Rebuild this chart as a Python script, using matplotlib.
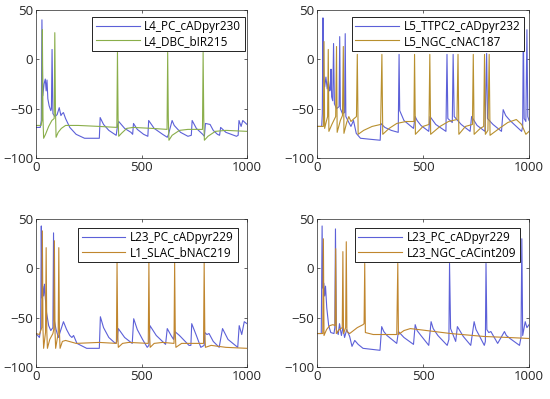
import numpy as np
import matplotlib
matplotlib.use("Agg")
import matplotlib.pyplot as plt

plt.rcParams['font.family'] = ['Open Sans', 'DejaVu Sans']

# (time ms, membrane potential mV) vertices
pc230 = [(0,-69),(20,-69),(25,-62),(28,40),(32,-37),(38,-25),(44,-20),(48,-32),(52,-21),(56,-40),
         (62,-47),(70,-52),(73,-50),(76,10),(80,-55),(90,-58),(100,-56),(110,-49),(118,-57),(124,-55),
         (130,-54),(140,-60),(160,-69),(190,-76),(230,-80),(300,-80),(304,-59),(320,-66),(345,-72),
         (380,-77),(387,-66),(392,-63),(420,-70),(450,-74),(458,-76),(462,-65),(480,-71),(510,-76),
         (530,-78),(534,-62),(560,-70),(600,-76),(622,-79),(628,-76),(645,-62),(655,-67),(685,-74),
         (720,-78),(736,-77),(740,-62),(760,-70),(790,-76),(798,-78),(803,-65),(825,-66),(840,-72),
         (860,-76),(870,-77),(875,-69),(900,-74),(950,-78),(958,-77),(962,-62),(972,-68),(980,-62),
         (990,-64),(1000,-66)]
dbc215 = [(0,-67),(24,-67),(28,-62),(30,30),(33,-60),(36,-80),(45,-76),(60,-68),(75,-62),(86,-60),
          (89,27),(92,-50),(95,-79),(105,-74),(120,-70),(140,-67),(200,-67),(300,-68),(383,-69),(386,7),
          (389,-60),(392,-78),(405,-75),(430,-70),(460,-69),(550,-70),(621,-71),(624,7),(627,-60),
          (630,-82),(645,-77),(680,-72),(720,-71),(789,-71),(792,7),(795,-60),(798,-82),(815,-78),
          (850,-73),(900,-72),(1000,-73)]

ttpc232 = [(0,-68),(22,-68),(25,-55),(28,42),(31,-20),(36,-28),(42,-18),(48,-30),(54,-22),(60,-32),
           (63,-30),(66,-10),(69,-38),(74,-42),(78,16),(82,-45),(92,-50),(104,-48),(107,23),(110,-50),
           (120,-55),(130,-54),(133,26),(136,-58),(150,-64),(160,-68),(172,-62),(185,-75),(205,-80),
           (250,-81),(298,-82),(301,-65),(320,-69),(350,-72),(383,-74),(387,5),(390,-52),(410,-62),
           (455,-70),(463,-58),(472,-62),(490,-67),(527,-73),(533,-58),(560,-66),(608,-73),(613,5),
           (617,-60),(638,-64),(642,5),(647,-58),(680,-66),(722,-73),(729,-58),(755,-67),(792,-73),
           (800,6),(804,-60),(830,-66),(870,-73),(878,-51),(890,-57),(910,-62),(965,-73),(970,-68),
           (973,36),(977,-60),(985,-63),(990,30),(994,-58),(1000,-62)]
ngc187 = [(0,-68),(30,-68),(33,18),(36,-70),(45,-62),(50,-58),(53,10),(56,-73),(70,-66),(88,-58),
          (92,13),(95,-74),(110,-62),(120,-57),(124,13),(127,-75),(140,-64),(150,-58),(160,-63),
          (175,-60),(186,-58),(190,5),(194,-76),(220,-72),(260,-68),(300,-66),(306,5),(310,-76),
          (340,-70),(376,-65),(420,-63),(457,-63),(460,5),(464,-76),(500,-68),(528,-66),(532,5),
          (536,-76),(580,-68),(620,-63),(660,-61),(665,5),(669,-76),(700,-68),(733,-66),(737,5),
          (741,-76),(770,-70),(786,-68),(790,5),(794,-76),(806,-72),(812,5),(816,-77),(860,-70),
          (900,-64),(940,-61),(965,-66),(985,-76),(1000,-73)]

pc229 = [(0,-66),(16,-70),(22,-62),(25,43),(28,-30),(32,-18),(36,-28),(40,-16),(44,-30),(50,-45),
         (60,-58),(70,-63),(80,-60),(83,36),(86,-52),(95,-62),(106,-70),(118,-62),(130,-54),(145,-62),
         (160,-68),(170,-70),(178,-68),(194,-76),(240,-81),(300,-81),(305,-49),(320,-60),(345,-70),
         (376,-76),(384,-74),(390,-61),(420,-70),(456,-76),(463,-51),(480,-62),(505,-72),(527,-80),
         (535,-78),(540,-58),(570,-68),(614,-77),(622,-61),(640,-68),(652,-72),(658,-64),(680,-68),
         (725,-78),(734,-78),(738,-56),(760,-68),(781,-80),(797,-78),(800,-65),(810,-67),(820,-66),
         (840,-74),(868,-80),(884,-61),(910,-72),(956,-80),(963,-58),(975,-67),(987,-54),(1000,-56)]
slac219 = [(0,-66),(16,-67),(27,-60),(30,38),(33,-62),(36,-81),(42,-70),(45,-65),(48,21),(51,-63),
           (54,-81),(65,-72),(80,-66),(84,-62),(87,28),(90,-64),(93,-81),(100,-72),(105,-66),(108,21),
           (111,-65),(114,-81),(125,-74),(140,-73),(190,-76),(300,-75),(381,-76),(384,6),(387,-65),
           (390,-80),(410,-76),(440,-75),(532,-76),(535,6),(538,-65),(541,-80),(560,-76),(600,-75),
           (654,-76),(657,6),(660,-65),(663,-80),(690,-76),(794,-76),(797,6),(800,-65),(803,-80),
           (830,-78),(900,-80),(1000,-81)]

pc229b = [(0,-66),(20,-66),(24,43),(27,-20),(32,-15),(36,-28),(40,-18),(46,-40),(55,-58),(65,-65),
          (80,-66),(84,-60),(87,40),(91,-62),(100,-67),(106,-56),(115,-68),(122,-60),(130,-70),
          (140,-62),(154,-69),(165,-79),(178,-73),(194,-77),(217,-81),(297,-83),(305,-59),(315,-64),
          (330,-68),(376,-76),(384,-64),(410,-70),(455,-77),(463,-57),(472,-63),(490,-68),(527,-78),
          (538,-54),(548,-61),(570,-68),(614,-78),(622,-72),(625,5),(630,-61),(654,-74),(662,-59),
          (690,-69),(725,-78),(741,-54),(750,-62),(765,-68),(789,-78),(794,-74),(797,5),(801,-62),
          (810,-65),(820,-64),(852,-76),(884,-64),(893,-68),(910,-71),(955,-78),(962,-70),(966,30),
          (970,-68),(982,-54),(990,-60),(1000,-57)]
ngc209 = [(0,-66),(27,-66),(30,30),(33,-68),(45,-62),(60,-58),(75,-57),(85,-58),(88,20),(91,-66),
          (105,-62),(119,-60),(122,17),(125,-66),(135,-60),(138,27),(141,-64),(154,-66),(190,-60),
          (217,-57),(222,-56),(225,5),(228,-65),(265,-67),(376,-67),(381,5),(384,-67),(410,-63),
          (440,-61),(480,-62),(630,-66),(789,-69),(900,-70),(1000,-71)]

panels = [
    (pc230, dbc215, "L4_PC_cADpyr230", "L4_DBC_bIR215", "#8aae4a"),
    (ttpc232, ngc187, "L5_TTPC2_cADpyr232", "L5_NGC_cNAC187", "#b8902e"),
    (pc229, slac219, "L23_PC_cADpyr229", "L1_SLAC_bNAC219", "#c0862e"),
    (pc229b, ngc209, "L23_PC_cADpyr229", "L23_NGC_cACint209", "#c0862e"),
]
blue = "#5c60d8"

# axes boxes in figure fractions [left, bottom, width, height]
boxes = [[0.0655, 0.604, 0.3836, 0.371], [0.5764, 0.604, 0.3855, 0.371],
         [0.0655, 0.080, 0.3836, 0.371], [0.5764, 0.080, 0.3855, 0.371]]
anchors = [(0.99, 0.955), (0.976, 0.955), (0.955, 0.94), (0.955, 0.94)]

fig = plt.figure(figsize=(5.5, 3.99), dpi=100)
for (a, b, la, lb, col), box, anc in zip(panels, boxes, anchors):
    ax = fig.add_axes(box)
    ta, va = np.array(a).T
    tb, vb = np.array(b).T
    ax.plot(ta, va, color=blue, lw=0.8, label=la)
    ax.plot(tb, vb, color=col, lw=0.8, label=lb)
    ax.set_xlim(0, 1000)
    ax.set_ylim(-100, 50)
    ax.set_xticks([0, 500, 1000])
    ax.set_yticks([-100, -50, 0, 50])
    ax.tick_params(direction='in', length=2.5, width=0.5, labelsize=9.5,
                   colors='#262626', top=True, right=True, pad=2)
    for s in ax.spines.values():
        s.set_linewidth(0.5)
        s.set_color('#262626')
    leg = ax.legend(loc='upper right', bbox_to_anchor=anc, borderaxespad=0,
                    fontsize=8.5, fancybox=False, framealpha=1, edgecolor='black',
                    handlelength=3.7, handletextpad=0.4, labelspacing=0.12,
                    borderpad=0.3)
    leg.get_frame().set_linewidth(0.6)

fig.savefig("out.png", dpi=100)
